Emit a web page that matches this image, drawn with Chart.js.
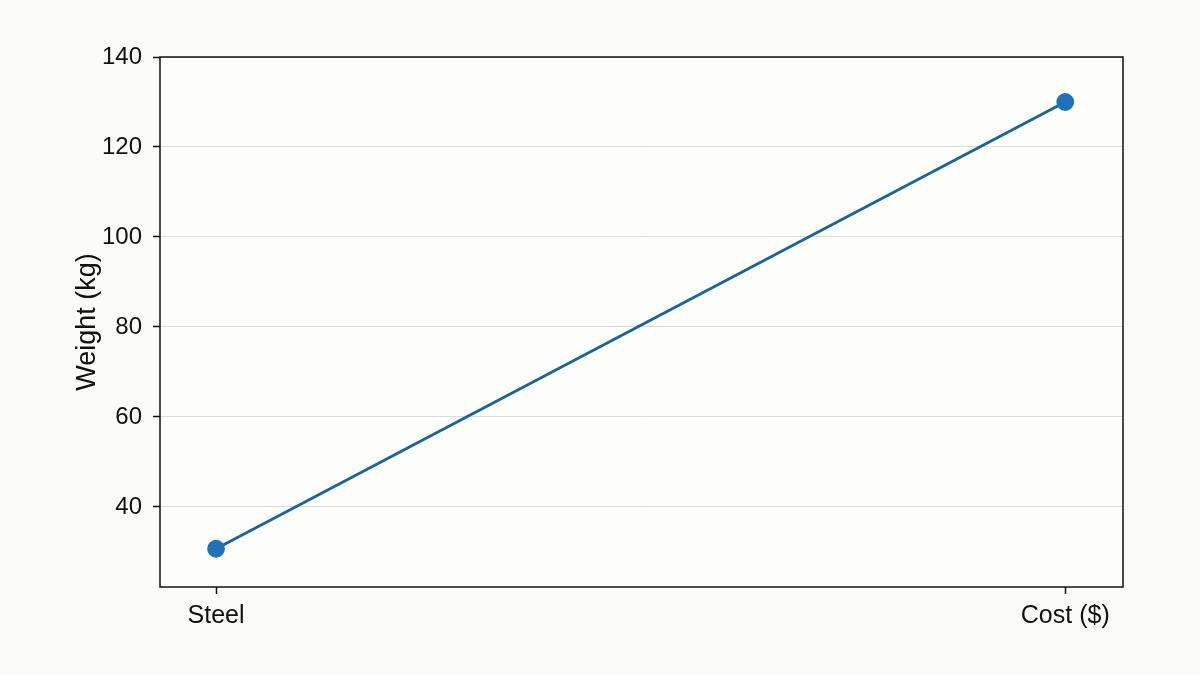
<!DOCTYPE html>
<html>
<head>
<meta charset="utf-8">
<script src="https://cdn.jsdelivr.net/npm/chart.js@4/dist/chart.umd.min.js"></script>
<style>
  html,body{margin:0;padding:0;background:#fafaf8;}
  #wrap{width:1200px;height:675px;position:relative;}
</style>
</head>
<body>
<div id="wrap"><canvas id="c" width="1200" height="675"></canvas></div>
<script>
const categories = ["Steel", "Cost ($)"];
const values = [30.7, 130];
const yTicks = [40, 60, 80, 100, 120, 140];
const yTitle = "Weight (kg)";

const frame = {
  id: 'frame',
  beforeDraw(chart) {
    const {ctx, chartArea: a} = chart;
    ctx.save();
    ctx.fillStyle = '#fdfdfc';
    ctx.fillRect(a.left, a.top, a.right - a.left, a.bottom - a.top);
    ctx.restore();
  },
  beforeDatasetsDraw(chart) {
    const {ctx, chartArea: a} = chart;
    ctx.save();
    ctx.strokeStyle = '#111';
    ctx.lineWidth = 1.5;
    ctx.strokeRect(a.left, a.top, a.right - a.left, a.bottom - a.top);
    ctx.restore();
  }
};

const family = "'Liberation Sans', Arial, sans-serif";

new Chart(document.getElementById('c'), {
  type: 'line',
  data: {
    datasets: [{
      data: values.map((v, i) => ({x: i, y: v})),
      borderColor: '#1b6399',
      borderWidth: 2.8,
      pointBackgroundColor: '#1f72b8',
      pointBorderColor: '#1f72b8',
      pointRadius: 7.5,
      pointHoverRadius: 7.5,
      tension: 0
    }]
  },
  options: {
    responsive: false,
    animation: false,
    devicePixelRatio: 1,
    layout: {padding: {left: 0, top: 57, right: 77, bottom: 0}},
    plugins: {legend: {display: false}, tooltip: {enabled: false}},
    scales: {
      x: {
        type: 'linear',
        min: -0.066,
        max: 1.068,
        afterBuildTicks: s => { s.ticks = categories.map((c, i) => ({value: i})); },
        afterFit: s => { s.height = 88; },
        ticks: {
          callback: (v) => categories[v] ?? '',
          color: '#111',
          font: {family, size: 25},
          padding: 7,
          maxRotation: 0,
          autoSkip: false
        },
        grid: {drawOnChartArea: false, drawTicks: true, tickLength: 7, tickColor: '#111', tickWidth: 1.5},
        border: {display: false}
      },
      y: {
        min: 22.2,
        max: 140,
        afterBuildTicks: s => { s.ticks = yTicks.map(v => ({value: v})); },
        afterFit: s => { s.width = 160; },
        ticks: {color: '#111', font: {family, size: 24}, padding: 11},
        grid: {color: '#dcdcdc', lineWidth: 1, drawTicks: true, tickLength: 7, tickColor: '#111', tickWidth: 1.5},
        border: {display: false},
        title: {display: true, text: yTitle, color: '#111', font: {family, size: 27}, padding: {top: 71, bottom: 0}}
      }
    }
  },
  plugins: [frame]
});
</script>
</body>
</html>
